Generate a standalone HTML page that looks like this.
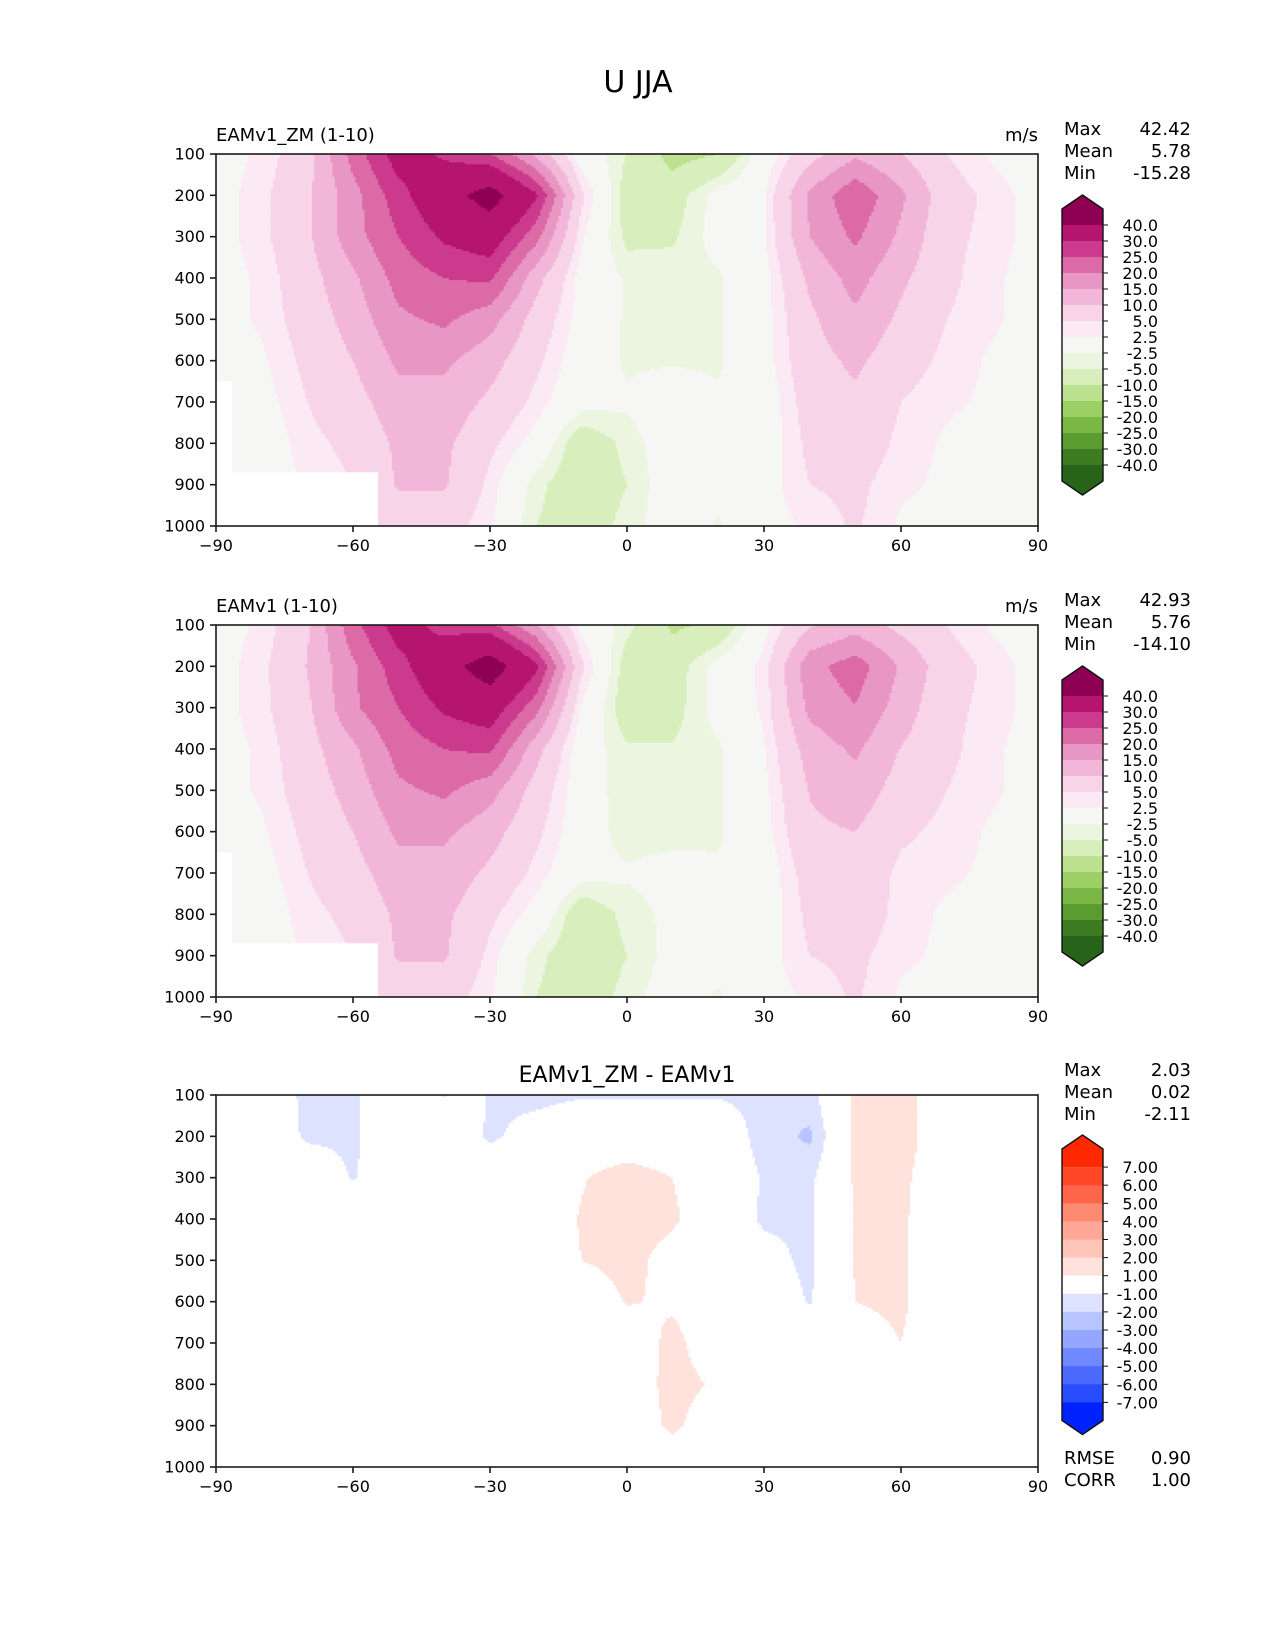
<!DOCTYPE html>
<html><head><meta charset="utf-8">
<style>
html,body{margin:0;padding:0;background:#fff;}
svg{display:block;font-family:"DejaVu Sans","Liberation Sans",sans-serif;}
</style></head>
<body>
<svg id="fig" width="1275" height="1650" viewBox="0 0 1275 1650" xmlns="http://www.w3.org/2000/svg">
<rect x="0" y="0" width="1275" height="1650" fill="#fff"/>
<text x="638" y="92" font-size="30" text-anchor="middle">U JJA</text>
</svg>
<script>
// ---- data ----
const lats = [-90,-80,-70,-60,-50,-40,-30,-20,-10,0,10,20,30,40,50,60,70,80,90];
const levels = [100,200,300,400,500,600,700,800,900,1000];
// U for EAMv1_ZM, rows = levels, cols = lats
const U1 = [
 [1,3,8,22,33,29,25,14,0,-5,-12,-10,0,8,14,10,5,2,0],
 [1,4,9,18,28,36,44,31,6,-7,-7,-1,2,16,24,16,7,4,1],
 [1,4,9,18,25,31,34,22,3,-6,-5.5,-1,2,15,21,14,6,4,1],
 [1,3,8,14,22,25,26,12,1,-3,-3.5,-3,1,11,17,11,6,3,1],
 [1,3,7,12,19,21,17,8,1,-3,-3.5,-3,1,9,14,9,5,3,1],
 [0,2,6,10,16,16,12,6,0,-3,-3,-3,1,8,11,7,4,2,1],
 [0,1,5,8,13,13,9,4,-1,-2,0.5,-2,0,7,9,5,3,2,0],
 [0,0,4,6,11,11,6,1,-8,-4,0,-1,0,6,8,4,2,1,0],
 [0,0,3,5,10.5,10.5,4,-4,-8,-5,0,-1,1,5,6,3,2,1,0],
 [0,0,2,4,7,7,3,-5,-7,-4,0,-3,1,3,5.5,2,1,0,0]
];
// difference EAMv1_ZM - EAMv1
const D = [
 [0,0,-1.3,-1.2,0,1.1,-1.2,-1.3,-1.1,-1.1,-1.1,-1.1,-1.3,-1.5,1.3,1.5,0,0,0],
 [0,0,-1.2,-1.2,0,0,-1.2,-0.5,0,0,0,0,-1.5,-2.2,1.3,1.6,0,0,0],
 [0,0,0,-1.1,0,0,0,0,0.9,1.6,1.0,0,-1.1,-1.3,1.2,1.3,0,0,0],
 [0,0,0,0,0,0,0,0,1.1,1.6,1.2,0,-1.2,-1.2,1.1,1.2,0,0,0],
 [0,0,0,0,0,0,0,0,1.0,1.4,0.5,0,-0.5,-1.3,1.1,1.2,0,0,0],
 [0,0,0,0,0,0,0,0,0,1.1,0.8,0,0,-1.1,1.0,1.2,0,0,0],
 [0,0,0,0,0,0,0,0,0,0,1.4,0,0,0,0.5,1.0,0,0,0],
 [0,0,0,0,0,0,0,0,0,0,1.5,0.8,0,0,0,0.3,0,0,0],
 [0,0,0,0,0,0,0,0,0,0,1.3,0,0,0,0,0,0,0,0],
 [0,0,0,0,0,0,0,0,0,0,0,0,0,0,0,0,0,0,0]
];
const uBounds = [-40,-30,-25,-20,-15,-10,-5,-2.5,2.5,5,10,15,20,25,30,40];
const uColors = ["#276419","#3d7b22","#5a9c30","#7ab744","#9ccf64","#bce28f","#d8efbd","#ecf5e0","#f6f6f4","#fbe9f3","#f8d4e8","#f2b6d8","#e897c4","#dc6aa6","#cb3a8c","#b5156f","#8e0152"];
const uLabels = ["40.0","30.0","25.0","20.0","15.0","10.0","5.0","2.5","-2.5","-5.0","-10.0","-15.0","-20.0","-25.0","-30.0","-40.0"];
const dBounds = [-7,-6,-5,-4,-3,-2,-1,1,2,3,4,5,6,7];
const dColors = ["#0022ff","#2a4cff","#4d6aff","#7088ff","#95a6ff","#b8c4ff","#dce2ff","#fefefe","#ffe2dc","#ffc4b8","#ffa898","#ff8a72","#ff654a","#ff4626","#ff2800"];
const dLabels = ["7.00","6.00","5.00","4.00","3.00","2.00","1.00","-1.00","-2.00","-3.00","-4.00","-5.00","-6.00","-7.00"];
const xTicks = [-90,-60,-30,0,30,60,90];
const xTickLabels = ["\u221290","\u221260","\u221230","0","30","60","90"];
const yTicks = [100,200,300,400,500,600,700,800,900,1000];
const stats1 = ["42.42","5.78","-15.28"];
const stats2 = ["42.93","5.76","-14.10"];
const stats3 = ["2.03","0.02","-2.11"];
const rmseCorr = ["0.90","1.00"];

// ---- helpers ----
const NS="http://www.w3.org/2000/svg";
const fig=document.getElementById('fig');
const L=216,R=1038,W=R-L,H=372;
function mk(tag,attrs,parent){const e=document.createElementNS(NS,tag);for(const k in attrs)e.setAttribute(k,attrs[k]);(parent||fig).appendChild(e);return e;}
function xS(lat){return L+(lat+90)/180*W;}
function sample(g,lat,p){
  let fi=(lat-lats[0])/10, fj=(p-levels[0])/100;
  fi=Math.max(0,Math.min(lats.length-1.0001,fi)); fj=Math.max(0,Math.min(levels.length-1.0001,fj));
  const i=Math.floor(fi),j=Math.floor(fj),a=fi-i,b=fj-j;
  return g[j][i]*(1-a)*(1-b)+g[j][i+1]*a*(1-b)+g[j+1][i]*(1-a)*b+g[j+1][i+1]*a*b;
}
function bin(v,bounds){let k=0;while(k<bounds.length&&v>=bounds[k])k++;return k;}
function txt(s,x,y,size,anchor,name){const t=mk('text',{x:x,y:y,'font-size':size,'text-anchor':anchor||'start'});t.textContent=s;return t;}

function drawPanel(top,fn,bounds,colors,masked,name){
  const yS=p=>top+(p-100)/900*H;
  const g=mk('g',{});
  
  
  const dl=0.5,dp=5;
  for(let p=100;p<1000;p+=dp){
    let runStart=-90,runCol=null;
    const pc=p+dp/2;
    for(let lat=-90;lat<=90;lat+=dl){
      let col;
      if(lat>=90){col='__end';}
      else{
        const lc=lat+dl/2;
        if(masked&&((lc<-54.5&&pc>870)||(lc<-86.5&&pc>650)))col='#ffffff';
        else col=colors[bin(fn(lc,pc),bounds)];
      }
      if(col!==runCol){
        if(runCol!==null){
          const r=mk('rect',{x:xS(runStart).toFixed(2),y:yS(p).toFixed(2),width:(xS(lat)-xS(runStart)+0.6).toFixed(2),height:(yS(p+dp)-yS(p)+0.6).toFixed(2),fill:runCol},g);
          
          
        }
        runStart=lat;runCol=col;
      }
    }
  }
  const f=mk('rect',{x:L,y:top,width:W,height:H,fill:'none',stroke:'#1a1a1a','stroke-width':1.6});
  
  
  const ax=mk('g',{});
  
  
  yTicks.forEach(p=>{const y=yS(p);mk('line',{x1:L-6,x2:L,y1:y,y2:y,stroke:'#1a1a1a','stroke-width':1.6},ax);
    txt(String(p),L-11,y+5.5,16,'end','y-tick-label');});
  xTicks.forEach((lat,i)=>{const x=xS(lat);mk('line',{x1:x,x2:x,y1:top+H,y2:top+H+6,stroke:'#1a1a1a','stroke-width':1.6},ax);
    txt(xTickLabels[i],x,top+H+25,16,'middle','x-tick-label');});
}
function drawStats(top,vals,name){
  const names=["Max","Mean","Min"];
  names.forEach((n,i)=>{txt(n,1064,top-19+i*22,18,'start',name+'-stat-name');txt(vals[i],1191,top-19+i*22,18,'end',name+'-stat-value');});
}
function drawColorbar(tipTop,bandH,bounds,colors,labels,name){
  const x0=1062,x1=1103,xm=(x0+x1)/2;
  const g=mk('g',{});
  
  
  const n=colors.length;
  const tipH=14;
  const yTop=tipTop+tipH;
  mk('polygon',{points:`${x0},${yTop} ${xm},${tipTop} ${x1},${yTop} ${x1},${yTop+bandH} ${x0},${yTop+bandH}`,fill:colors[n-1]},g);
  const inner=bounds.length-1;
  for(let k=0;k<inner;k++){
    const c=colors[n-2-k];
    const r=mk('rect',{x:x0,y:yTop+bandH*(k+1),width:x1-x0,height:bandH+0.5,fill:c},g);
    
    
  }
  const yB=yTop+bandH*(inner+1);
  mk('polygon',{points:`${x0},${yB} ${x1},${yB} ${x1},${yB+bandH} ${xm},${yB+bandH+tipH} ${x0},${yB+bandH}`,fill:colors[0]},g);
  mk('polygon',{points:`${x0},${yTop} ${xm},${tipTop} ${x1},${yTop} ${x1},${yB+bandH} ${xm},${yB+bandH+tipH} ${x0},${yB+bandH}`,fill:'none',stroke:'#111','stroke-width':1.4},g);
  labels.forEach((s,k)=>{const y=yTop+bandH*(k+1);mk('line',{x1:x1,x2:x1+5,y1:y,y2:y,stroke:'#111','stroke-width':1},g);
    txt(s,1158,y+6,16,'end','colorbar-label');});
}

// ---- panels ----
const T1=154,T2=625,T3=1095;
const f1=(lat,p)=>sample(U1,lat,p);
const f2=(lat,p)=>sample(U1,lat,p)-sample(D,lat,p);
const f3=(lat,p)=>sample(D,lat,p);
drawPanel(T1,f1,uBounds,uColors,true,'panel-zm');
drawPanel(T2,f2,uBounds,uColors,true,'panel-eam');
drawPanel(T3,f3,dBounds,dColors,false,'panel-diff');
txt("EAMv1_ZM (1-10)",216,141,18,'start','panel-zm-title');
txt("m/s",1038,141,18,'end','panel-zm-units');
txt("EAMv1 (1-10)",216,612,18,'start','panel-eam-title');
txt("m/s",1038,612,18,'end','panel-eam-units');
txt("EAMv1_ZM - EAMv1",627,1082,22,'middle','panel-diff-title');
drawStats(T1,stats1,'panel-zm');
drawStats(T2,stats2,'panel-eam');
drawStats(T3,stats3,'panel-diff');
drawColorbar(195,16,uBounds,uColors,uLabels,'colorbar-u-zm');
drawColorbar(666,16,uBounds,uColors,uLabels,'colorbar-u-eam');
drawColorbar(1135,18.1,dBounds,dColors,dLabels,'colorbar-diff');
txt("RMSE",1064,1464,18,'start','rmse-label');txt(rmseCorr[0],1191,1464,18,'end','rmse-value');
txt("CORR",1064,1486,18,'start','corr-label');txt(rmseCorr[1],1191,1486,18,'end','corr-value');
</script>
</body></html>
